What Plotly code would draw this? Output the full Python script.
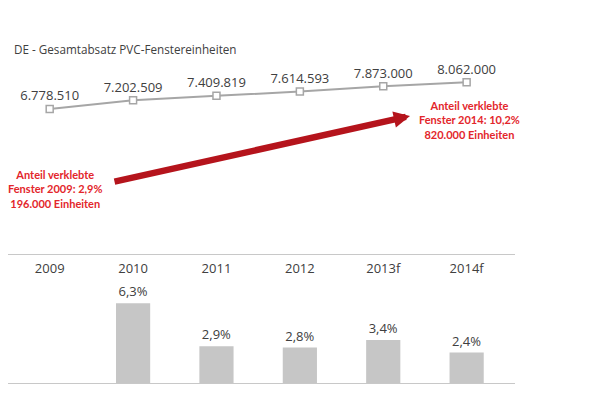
import plotly.graph_objects as go

categories = ["2009", "2010", "2011", "2012", "2013f", "2014f"]
total_sales = [6778510, 7202509, 7409819, 7614593, 7873000, 8062000]
total_labels = ["6.778.510", "7.202.509", "7.409.819", "7.614.593", "7.873.000", "8.062.000"]
growth = [None, 6.3, 2.9, 2.8, 3.4, 2.4]
growth_labels = ["", "6,3%", "2,9%", "2,8%", "3,4%", "2,4%"]

OFF = 8  # default page body margin
W, H = 598 - 2 * OFF, 398 - 2 * OFF
TXT = "#404040"
GRAY = "#a6a6a6"
RED = "#e3262b"
DARKRED = "#b5141c"
FONT = "Open Sans"

def px(x):
    return (x - OFF) / W

def py(y):
    return 1 - (y - OFF) / H

fig = go.Figure()

fig.add_trace(go.Bar(
    x=categories, y=growth, text=growth_labels, textposition="outside",
    textfont=dict(size=13, color=TXT, family=FONT),
    marker=dict(color="#c6c6c6", line=dict(width=0)),
    width=0.41, cliponaxis=False, xaxis="x", yaxis="y",
))

fig.add_trace(go.Scatter(
    x=categories, y=total_sales, text=total_labels, mode="lines+markers+text",
    textposition="top center", textfont=dict(size=13, color=TXT, family=FONT),
    line=dict(color=GRAY, width=2),
    marker=dict(symbol="square", size=7, color="white", line=dict(color=GRAY, width=1.5)),
    cliponaxis=False, xaxis="x2", yaxis="y2",
))

xdom = [px(8), px(515)]
fig.update_layout(
    width=W, height=H,
    margin=dict(l=0, r=0, t=0, b=0),
    paper_bgcolor="white", plot_bgcolor="white",
    showlegend=False,
    font=dict(family=FONT, color=TXT),
    xaxis=dict(domain=xdom, type="category", range=[-0.5, 5.58], side="top",
               showline=True, mirror=True, linecolor="#c8c8c8", linewidth=1,
               ticks="", ticklabelposition="inside", ticklabelstandoff=9,
               tickfont=dict(size=13, color=TXT, family=FONT), showgrid=False),
    yaxis=dict(domain=[py(383), py(255)], range=[0, 10.1], visible=False, showgrid=False),
    xaxis2=dict(domain=xdom, type="category", range=[-0.5, 5.58], visible=False, anchor="y2"),
    yaxis2=dict(domain=[py(130), py(60)], range=[5769000, 9134000], visible=False, anchor="x2"),
)

fig.add_annotation(text="DE - Gesamtabsatz PVC-Fenstereinheiten", xref="paper", yref="paper",
                   x=px(12), y=py(49), xanchor="left", yanchor="middle", showarrow=False,
                   font=dict(size=11.7, color=TXT, family=FONT))

fig.add_annotation(text="", xref="paper", yref="paper", x=px(410), y=py(116),
                   ax=113 - 410, ay=182 - 116, showarrow=True, arrowhead=2,
                   arrowsize=0.5, arrowwidth=6.5, arrowcolor=DARKRED)

fig.add_annotation(text="<b>Anteil verklebte<br>Fenster 2009: 2,9%<br>196.000 Einheiten</b>",
                   xref="paper", yref="paper", x=px(55), y=py(189), xanchor="center",
                   yanchor="middle", showarrow=False, align="center",
                   font=dict(size=11, color=RED, family="Lato"))

fig.add_annotation(text="<b>Anteil verklebte<br>Fenster 2014: 10,2%<br>820.000 Einheiten</b>",
                   xref="paper", yref="paper", x=px(469), y=py(120), xanchor="center",
                   yanchor="middle", showarrow=False, align="center",
                   font=dict(size=11, color=RED, family="Lato"))

fig.write_html("out.html")
